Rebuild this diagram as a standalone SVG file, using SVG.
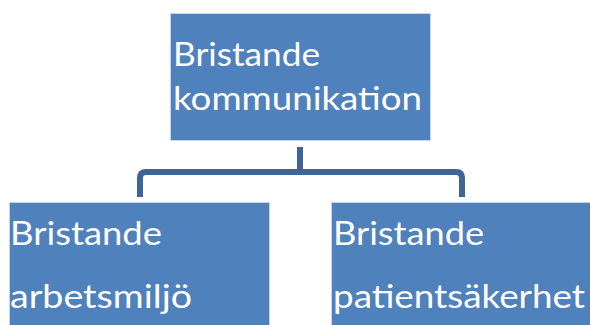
<svg xmlns="http://www.w3.org/2000/svg" width="590" height="325" viewBox="0 0 590 325">
<style>
.box{fill:#4F81BD;stroke:#C5D5EA;stroke-width:1}
.t{font-family:Lato,"Open Sans",sans-serif;font-size:32px;fill:#FFFFFF}
.conn{fill:none;stroke:#3E6596;stroke-width:6}
</style>
<rect width="590" height="325" fill="#FFFFFF"/>
<g id="connectors">
<path class="conn" d="M300,147 V172"/>
<path class="conn" d="M140,197 V178 Q140,172 146,172 H456 Q462,172 462,178 V197"/>
</g>
<g id="node-top">
<rect class="box" x="170.5" y="13.5" width="260" height="127"/>
<text class="t" x="173" y="66" textLength="147" lengthAdjust="spacingAndGlyphs">Bristande</text>
<text class="t" x="173" y="110" textLength="249" lengthAdjust="spacingAndGlyphs">kommunikation</text>
</g>
<g id="node-left">
<rect class="box" x="9.5" y="202.5" width="260" height="130"/>
<text class="t" x="10" y="245" textLength="152" lengthAdjust="spacingAndGlyphs">Bristande</text>
<text class="t" x="10" y="308" textLength="182" lengthAdjust="spacingAndGlyphs">arbetsmiljö</text>
</g>
<g id="node-right">
<rect class="box" x="331.5" y="202.5" width="265" height="130"/>
<text class="t" x="333" y="245" textLength="151" lengthAdjust="spacingAndGlyphs">Bristande</text>
<text class="t" x="333" y="308" textLength="252" lengthAdjust="spacingAndGlyphs">patientsäkerhet</text>
</g>
</svg>
